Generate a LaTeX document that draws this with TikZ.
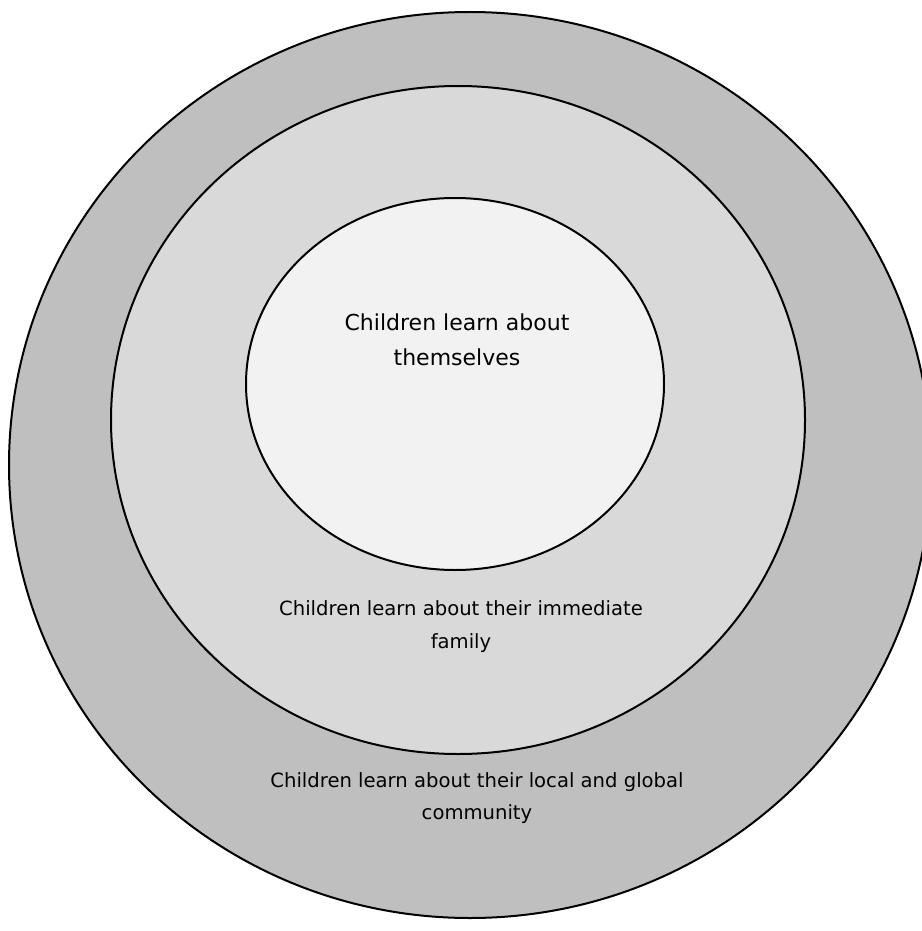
\documentclass[tikz,border=0pt]{standalone}
\usepackage{fontspec}
\setmainfont{DejaVu Sans}
\usetikzlibrary{positioning}
\definecolor{ringout}{HTML}{BFBFBF}
\definecolor{ringmid}{HTML}{D9D9D9}
\definecolor{ringin}{HTML}{F2F2F2}
\tikzset{
 ring/.style={draw=black,line width=2pt},
 lbl/.style={align=center,font=\fontsize{19.6}{33}\selectfont,inner sep=0pt}
}

\begin{document}
\begin{tikzpicture} [x=1pt,y=-1pt]
 \useasboundingbox (0,0) rectangle (921,931);
 \draw [ring,fill=ringout] (470,465) ellipse (461 and 453);
 \draw [ring,fill=ringmid] (458,420) ellipse (347 and 334);
 \draw [ring,fill=ringin] (455,384) ellipse (209 and 186);
 \node [lbl,font=\fontsize{22}{35}\selectfont] (self) at (457,340) {Children learn about\\themselves};
 \node [lbl] (family) at (461,627) {Children learn about their immediate\\family};
 \node [lbl,font=\fontsize{19.6}{32}\selectfont] (community) at (477,798) {Children learn about their local and global\\community};
\end{tikzpicture}
\end{document}
